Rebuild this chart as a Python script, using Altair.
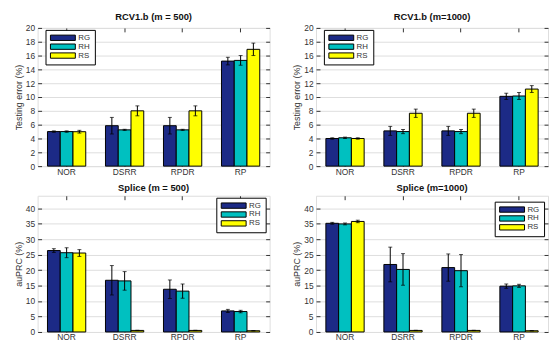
import altair as alt
import pandas as pd

cats = ["NOR", "DSRR", "RPDR", "RP"]
methods = ["RG", "RH", "RS"]
colors = ["#1c2a86", "#00c0c0", "#ffff00"]

# RCV1.b (m = 500) testing error (%)
rcv500_RG = [5.0, 5.85, 5.85, 15.2]
rcv500_RH = [5.0, 5.25, 5.25, 15.3]
rcv500_RS = [4.98, 8.0, 8.0, 16.9]
rcv500_RG_err = [0.1, 1.2, 1.2, 0.55]
rcv500_RH_err = [0.1, 0.08, 0.08, 0.7]
rcv500_RS_err = [0.2, 0.72, 0.72, 0.9]

# RCV1.b (m=1000)
rcv1000_RG = [4.0, 5.1, 5.1, 10.1]
rcv1000_RH = [4.1, 5.0, 5.0, 10.15]
rcv1000_RS = [4.0, 7.65, 7.65, 11.15]
rcv1000_RG_err = [0.1, 0.65, 0.65, 0.45]
rcv1000_RH_err = [0.1, 0.3, 0.3, 0.5]
rcv1000_RS_err = [0.1, 0.6, 0.6, 0.5]

# Splice (m = 500) auPRC (%)
spl500_RG = [26.3, 16.7, 13.8, 6.8]
spl500_RH = [25.6, 16.5, 13.2, 6.6]
spl500_RS = [25.5, 0.5, 0.5, 0.4]
spl500_RG_err = [0.6, 4.75, 3.0, 0.5]
spl500_RH_err = [1.6, 3.0, 2.3, 0.4]
spl500_RS_err = [1.1, 0.05, 0.05, 0.05]

# Splice (m=1000)
spl1000_RG = [35.1, 21.8, 20.8, 14.8]
spl1000_RH = [34.9, 20.2, 19.8, 14.9]
spl1000_RS = [35.7, 0.5, 0.5, 0.4]
spl1000_RG_err = [0.3, 5.6, 4.4, 0.7]
spl1000_RH_err = [0.3, 5.1, 5.2, 0.5]
spl1000_RS_err = [0.4, 0.05, 0.05, 0.05]

FONT = "Liberation Sans"
LBL = "#333333"
INWARD = alt.ExprRef(expr="-4")


def make_df(means, errs):
    rows = []
    for m, vals, es in zip(methods, means, errs):
        for c, v, e in zip(cats, vals, es):
            rows.append({"cat": c, "method": m, "mean": v, "lo": v - e, "hi": v + e})
    return pd.DataFrame(rows)


def panel(title, means, errs, ytitle, ymax, ystep, lx, ly, h):
    df = make_df(means, errs)
    base = alt.Chart(df)
    xscale = alt.Scale(paddingInner=0.34, paddingOuter=0.17)
    yscale = alt.Scale(domain=[0, ymax], nice=False)
    yvals = list(range(0, int(ymax) + 1, ystep))
    xoff = alt.XOffset("method:N", sort=methods, scale=alt.Scale(paddingInner=0, paddingOuter=0))

    bars = base.mark_bar(stroke="black", strokeWidth=1).encode(
        x=alt.X("cat:N", sort=cats, scale=xscale,
                axis=alt.Axis(title=None, orient="bottom", labelAngle=0, tickSize=INWARD,
                              domain=False, labelPadding=5, labelFontSize=8.5, labelColor=LBL,
                              labelFont=FONT, tickColor="#333")),
        xOffset=xoff,
        y=alt.Y("mean:Q", scale=yscale,
                axis=alt.Axis(title=ytitle, orient="left", values=yvals, tickSize=INWARD,
                              domain=False, labelPadding=7, labelFontSize=8.5, labelColor=LBL,
                              labelFont=FONT, titleFont=FONT, titleFontSize=9,
                              titleFontWeight="normal", titleColor=LBL, titlePadding=2,
                              tickColor="#333")),
        color=alt.Color("method:N", sort=methods,
                        scale=alt.Scale(domain=methods, range=colors),
                        legend=alt.Legend(title=None, orient="none", legendX=lx, legendY=ly,
                                          padding=4, strokeColor="black", fillColor="white",
                                          symbolType="M-4.2,-0.9H4.2V0.9H-4.2Z", symbolSize=36,
                                          symbolOffset=9.6,
                                          symbolStrokeColor="black", symbolStrokeWidth=1,
                                          labelFontSize=8, labelFont=FONT, labelColor=LBL,
                                          rowPadding=-3, labelOffset=11.5, symbolOpacity=1)),
    )
    rules = base.mark_rule(color="black", strokeWidth=1).encode(
        x=alt.X("cat:N", sort=cats, axis=None), xOffset=xoff,
        y=alt.Y("lo:Q", axis=None), y2="hi:Q")
    cap_lo = base.mark_tick(color="black", size=4, thickness=1).encode(
        x=alt.X("cat:N", sort=cats, axis=None), xOffset=xoff, y=alt.Y("lo:Q", axis=None))
    cap_hi = base.mark_tick(color="black", size=4, thickness=1).encode(
        x=alt.X("cat:N", sort=cats, axis=None), xOffset=xoff, y=alt.Y("hi:Q", axis=None))
    mirror = base.mark_tick(opacity=0).encode(
        x=alt.X("cat:N", sort=cats,
                axis=alt.Axis(title=None, orient="top", labels=False, tickSize=INWARD,
                              domain=False, tickColor="#333")),
        y=alt.Y("mean:Q",
                axis=alt.Axis(title=None, orient="right", labels=False, values=yvals,
                              tickSize=INWARD, domain=False, tickColor="#333")),
    )
    return alt.layer(bars, rules, cap_lo, cap_hi, mirror).resolve_axis(
        x="independent", y="independent").properties(
        width=235, height=h,
        title=alt.Title(title, fontSize=9.5, font=FONT, fontWeight="bold", color="#111", offset=3))


p1 = panel("RCV1.b (m = 500)", [rcv500_RG, rcv500_RH, rcv500_RS],
           [rcv500_RG_err, rcv500_RH_err, rcv500_RS_err], "Testing error (%)", 20, 2,
           8, 2, 140)
p2 = panel("RCV1.b (m=1000)", [rcv1000_RG, rcv1000_RH, rcv1000_RS],
           [rcv1000_RG_err, rcv1000_RH_err, rcv1000_RS_err], "Testing error (%)", 20, 2,
           8, 2, 140)
p3 = panel("Splice (m = 500)", [spl500_RG, spl500_RH, spl500_RS],
           [spl500_RG_err, spl500_RH_err, spl500_RS_err], "auPRC (%)", 44, 5,
           181, 2, 138)
p4 = panel("Splice (m=1000)", [spl1000_RG, spl1000_RH, spl1000_RS],
           [spl1000_RG_err, spl1000_RH_err, spl1000_RS_err], "auPRC (%)", 44, 5,
           181, 6, 138)

row1 = alt.hconcat(p1, p2, spacing=22).resolve_scale(color="independent").resolve_legend(color="independent")
row2 = alt.hconcat(p3, p4, spacing=22).resolve_scale(color="independent").resolve_legend(color="independent")
chart = alt.vconcat(row1, row2, spacing=6).resolve_scale(color="independent").resolve_legend(
    color="independent").properties(
    padding={"left": 6, "top": 1, "right": 0, "bottom": 0}
).configure_view(stroke="black", strokeWidth=1).configure(background="white")

chart.save("out.html", embed_options={"renderer": "svg", "actions": False})
